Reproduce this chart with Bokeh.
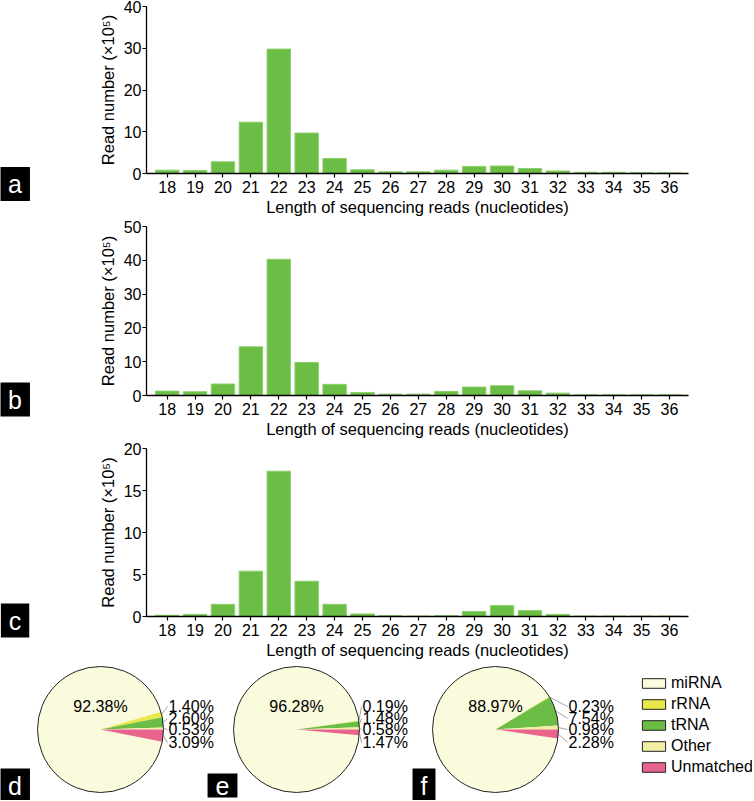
import math
from bokeh.plotting import figure
from bokeh.layouts import column, row
from bokeh.models import Range1d, FixedTicker, Label, Legend, LegendItem, ColumnDataSource
from bokeh.embed import file_html
from bokeh.resources import INLINE
from bokeh.core.properties import value

# ---------------- data ----------------
lengths = [18, 19, 20, 21, 22, 23, 24, 25, 26, 27, 28, 29, 30, 31, 32, 33, 34, 35, 36]
reads_a = [0.8, 0.7, 2.8, 12.3, 29.8, 9.7, 3.6, 0.9, 0.4, 0.4, 0.8, 1.7, 1.8, 1.2, 0.6, 0.3, 0.3, 0.2, 0.15]
reads_b = [1.3, 1.1, 3.4, 14.4, 40.3, 9.8, 3.3, 0.9, 0.4, 0.4, 1.2, 2.5, 2.9, 1.4, 0.7, 0.2, 0.2, 0.2, 0.2]
reads_c = [0.15, 0.25, 1.45, 5.4, 17.3, 4.2, 1.45, 0.3, 0.1, 0.05, 0.1, 0.6, 1.3, 0.7, 0.25, 0.05, 0.05, 0.05, 0.05]
ymax_a, ymax_b, ymax_c = 40, 50, 20
yticks_a = [0, 10, 20, 30, 40]
yticks_b = [0, 10, 20, 30, 40, 50]
yticks_c = [0, 5, 10, 15, 20]

pie_labels = ["miRNA", "rRNA", "tRNA", "Other", "Unmatched"]
pie_d = [92.38, 1.40, 2.60, 0.53, 3.09]
pie_e = [96.28, 0.19, 1.48, 0.58, 1.47]
pie_f = [88.97, 0.23, 7.54, 0.98, 2.28]

# ---------------- style ----------------
FONT = "Liberation Sans"
BAR = "#6cbd45"
BAR_EDGE = "#8ccf6c"
PIE_COLORS = ["#fafadc", "#e8e84a", "#6cbd45", "#f1eea4", "#e8648c"]
W = 752
LW = 30  # width of the panel-letter strip


def blank(width, height):
    p = figure(width=width, height=height, x_range=Range1d(0, width), y_range=Range1d(0, height),
               toolbar_location=None, output_backend="svg", min_border=0,
               x_axis_location=None, y_axis_location=None, frame_align=False)
    p.grid.visible = False
    p.outline_line_color = None
    return p


def letter_box(p, x, y, letter):
    p.add_layout(Label(x=x, y=y, text=letter, text_font=FONT, text_font_size="25px",
                       text_color="white", text_align="center", text_baseline="middle",
                       background_fill_color="black", padding=(8, 3)))


def bar_panel(vals, ymax, yticks, letter, height, top, letter_y):
    p = figure(width=W - LW, height=height, x_range=Range1d(17.26, 36.68), y_range=Range1d(0, ymax),
               toolbar_location=None, output_backend="svg", frame_align=False,
               min_border_left=116, min_border_right=64, min_border_top=top, min_border_bottom=0)
    src = ColumnDataSource(dict(x=lengths, top=vals))
    p.vbar(x="x", top="top", bottom=0, width=0.84, source=src,
           fill_color=BAR, line_color=BAR_EDGE, line_width=1)
    p.grid.visible = False
    p.outline_line_color = None

    xa = p.xaxis[0]
    xa.ticker = FixedTicker(ticks=lengths)
    xa.axis_label = "Length of sequencing reads (nucleotides)"
    ya = p.yaxis[0]
    ya.ticker = FixedTicker(ticks=yticks)
    ya.axis_label = "Read number (\u00d710\u2075)"
    for ax in (xa, ya):
        ax.axis_line_color = "black"
        ax.axis_line_width = 1.3
        ax.major_tick_line_color = "black"
        ax.major_tick_line_width = 1.2
        ax.major_tick_in = 0
        ax.major_tick_out = 4
        ax.minor_tick_line_color = None
        ax.major_label_text_font = FONT
        ax.major_label_text_font_size = "16px"
        ax.major_label_text_color = "black"
        ax.axis_label_text_font = FONT
        ax.axis_label_text_font_size = "16.5px"
        ax.axis_label_text_font_style = "normal"
        ax.axis_label_text_color = "black"
    xa.major_label_standoff = 3
    xa.axis_label_standoff = 2
    ya.major_label_standoff = 1
    ya.axis_label_standoff = 4

    strip = blank(LW, height)
    letter_box(strip, 14.5, letter_y, letter)
    return row(strip, p, spacing=0)


ra = bar_panel(reads_a, ymax_a, yticks_a, "a", 218, 6, 34.5)
rb = bar_panel(reads_b, ymax_b, yticks_b, "b", 222, 8, 41)
rc = bar_panel(reads_c, ymax_c, yticks_c, "c", 221, 8, 41)

# ---------------- pies ----------------
PH = 139
pp = blank(W, PH)

R = 63
pies = [pie_d, pie_e, pie_f]
centers_x = [100, 296, 495]
cy = 71
label_dx = [68, 66, 73]
row_dy = [23, 11, 0, -13]   # rRNA, tRNA, Other, Unmatched
letters = ["d", "e", "f"]
letter_x = [14.5, 222, 423.5]

# legend proxies (hidden renderers that carry the legend swatch style)
items = []
for i, name in enumerate(pie_labels):
    r = pp.rect(x=[0], y=[0], width=1, height=1, visible=False,
                fill_color=PIE_COLORS[i], line_color="#222222", line_width=1)
    items.append(LegendItem(label=name, renderers=[r]))

# counter-clockwise order starting just below 0 rad: Unmatched, Other, tRNA, rRNA, miRNA
ccw_order = [4, 3, 2, 1, 0]
wedge_data = {i: dict(x=[], y=[], s=[], e=[]) for i in range(5)}
mids = []
for k, vals in enumerate(pies):
    ang = -vals[4] / 100 * 2 * math.pi
    mid = {}
    for i in ccw_order:
        a1 = ang + vals[i] / 100 * 2 * math.pi
        wedge_data[i]["x"].append(centers_x[k])
        wedge_data[i]["y"].append(cy)
        wedge_data[i]["s"].append(ang)
        wedge_data[i]["e"].append(a1)
        mid[i] = (ang + a1) / 2
        ang = a1
    mids.append(mid)

for i in range(5):
    pp.wedge(x="x", y="y", radius=R, start_angle="s", end_angle="e",
             source=ColumnDataSource(wedge_data[i]),
             fill_color=PIE_COLORS[i], line_color=None)

pp.circle(x=centers_x, y=[cy] * 3, radius=R, fill_color=None, line_color="#222222", line_width=1)

# big labels
pp.text(x=centers_x, y=[cy + 23] * 3, text=[f"{v[0]:.2f}%" for v in pies],
        text_font=value(FONT), text_font_size="16px", text_color="black",
        text_align="center", text_baseline="middle")

# small labels with leader lines
sx, sy, st, lx0, ly0, lx1, ly1 = [], [], [], [], [], [], []
for k, vals in enumerate(pies):
    for j, i in enumerate([1, 2, 3, 4]):
        tx = centers_x[k] + label_dx[k]
        ty = cy + row_dy[j]
        sx.append(tx)
        sy.append(ty)
        st.append(f"{vals[i]:.2f}%")
        a = mids[k][i]
        lx0.append(centers_x[k] + R * math.cos(a))
        ly0.append(cy + R * math.sin(a))
        lx1.append(tx - 1)
        ly1.append(ty)
pp.segment(x0=lx0, y0=ly0, x1=lx1, y1=ly1, line_color="#8a8a8a", line_width=0.8)
pp.text(x=sx, y=sy, text=st, text_font=value(FONT), text_font_size="16px", text_color="black",
        text_align="left", text_baseline="middle")

legend = Legend(items=items, location=(639, 23), glyph_width=29, glyph_height=12,
                label_height=20, spacing=1, padding=0, margin=0, label_standoff=3,
                label_text_font=FONT, label_text_font_size="16px", label_text_color="black",
                border_line_color=None, background_fill_alpha=0)
pp.add_layout(legend)

for k in range(3):
    letter_box(pp, letter_x[k], 15, letters[k])

layout = column(ra, rb, rc, pp, spacing=0)
open("out.html", "w").write(file_html(layout, INLINE))
